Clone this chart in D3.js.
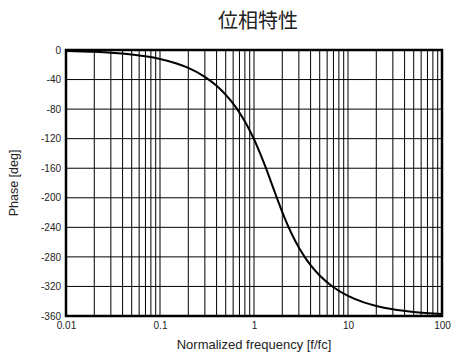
<!DOCTYPE html>
<html>
<head>
<meta charset="utf-8">
<script src="https://cdn.jsdelivr.net/npm/d3@7"></script>
<style>
  html, body { margin: 0; padding: 0; background: #fff; }
  svg { display: block; }
</style>
</head>
<body>
<div id="chart"></div>
<script>
// Phase response of the filter, normalized frequency f/fc vs phase in degrees
const freq = [0.01, 0.02, 0.03, 0.05, 0.07, 0.1, 0.15, 0.2, 0.3, 0.4, 0.5, 0.6, 0.7, 0.8, 0.9,
              1.0, 1.1, 1.2, 1.3, 1.4, 1.5, 1.6, 1.7, 1.8, 2.0, 2.2, 2.5, 3.0, 3.5, 4, 5, 7,
              10, 15, 20, 30, 50, 100];
const phase = [-1.2, -2.4, -3.6, -6.1, -8.5, -12.1, -18.2, -24.2, -36.3, -48.5, -60.6, -72.7, -84.8, -96.9, -108.9,
               -120.8, -132.7, -144.2, -155.5, -166.4, -176.7, -186.5, -195.7, -204.2, -219.4, -232.3, -248.0, -267.4, -281.0, -291.2, -305.2, -321.1,
               -332.8, -341.9, -346.4, -351.0, -354.6, -357.3];
const yTicks = [0, -40, -80, -120, -160, -200, -240, -280, -320, -360];
const yTickLabels = ["0", "-40", "-80", "-120", "-160", "-200", "-240", "-280", "-320", "-360"];
const xTicks = [0.01, 0.1, 1, 10, 100];
const xTickLabels = ["0.01", "0.1", "1", "10", "100"];

const W = 461, H = 354;
const margin = { left: 66, right: 19, top: 50, bottom: 38 };

const svg = d3.select("#chart").append("svg")
  .attr("width", W).attr("height", H);

const x = d3.scaleLog().domain([0.01, 100]).range([margin.left, W - margin.right]);
const y = d3.scaleLinear().domain([-360, 0]).range([H - margin.bottom, margin.top]);

const font = "'Liberation Sans', Arial, Helvetica, sans-serif";

// Minor/major vertical grid: 1..9 in each decade
const vGrid = [];
for (let d = -2; d < 2; d++) {
  for (let m = 2; m <= 9; m++) vGrid.push(m * Math.pow(10, d));
  if (d > -2) vGrid.push(Math.pow(10, d));
}

const grid = svg.append("g").attr("stroke", "#000").attr("stroke-width", 1);
grid.selectAll("line.v").data(vGrid).join("line")
  .attr("class", "v")
  .attr("x1", d => x(d)).attr("x2", d => x(d))
  .attr("y1", y(0)).attr("y2", y(-360));
grid.selectAll("line.h").data(yTicks.filter(t => t !== 0 && t !== -360)).join("line")
  .attr("class", "h")
  .attr("x1", x(0.01)).attr("x2", x(100))
  .attr("y1", d => y(d)).attr("y2", d => y(d));

// Curve
const pts = freq.map((f, i) => [f, phase[i]]);
svg.append("path")
  .datum(pts)
  .attr("fill", "none")
  .attr("stroke", "#000")
  .attr("stroke-width", 2)
  .attr("d", d3.line().x(d => x(d[0])).y(d => y(d[1])).curve(d3.curveMonotoneX));

// Frame
svg.append("rect")
  .attr("x", x(0.01)).attr("y", y(0))
  .attr("width", x(100) - x(0.01)).attr("height", y(-360) - y(0))
  .attr("fill", "none").attr("stroke", "#000").attr("stroke-width", 2.5);

// Axes (labels only; the frame and grid carry the lines)
const yAxis = d3.axisLeft(y).tickValues(yTicks)
  .tickFormat((d, i) => yTickLabels[i]).tickSize(0).tickPadding(5);
const gy = svg.append("g").attr("transform", `translate(${x(0.01)},0)`).call(yAxis);
gy.select(".domain").remove();
gy.selectAll("text").attr("font-family", font).attr("font-size", 10).attr("fill", "#222");

const xAxis = d3.axisBottom(x).tickValues(xTicks)
  .tickFormat((d, i) => xTickLabels[i]).tickSize(0).tickPadding(6);
const gx = svg.append("g").attr("transform", `translate(0,${y(-360)})`).call(xAxis);
gx.select(".domain").remove();
gx.selectAll("text").attr("font-family", font).attr("font-size", 10).attr("fill", "#222");

// Titles
svg.append("text")
  .attr("x", (x(0.01) + x(100)) / 2 + 4).attr("y", 28)
  .attr("text-anchor", "middle")
  .attr("font-family", "'Noto Sans CJK JP', sans-serif")
  .attr("font-size", 20).attr("fill", "#222")
  .text("位相特性");

svg.append("text")
  .attr("x", (x(0.01) + x(100)) / 2).attr("y", 349)
  .attr("text-anchor", "middle")
  .attr("font-family", font).attr("font-size", 13).attr("fill", "#222")
  .text("Normalized frequency [f/fc]");

svg.append("text")
  .attr("transform", `translate(18,${(y(0) + y(-360)) / 2}) rotate(-90)`)
  .attr("text-anchor", "middle")
  .attr("font-family", font).attr("font-size", 12.5).attr("fill", "#222")
  .text("Phase [deg]");
</script>
</body>
</html>
